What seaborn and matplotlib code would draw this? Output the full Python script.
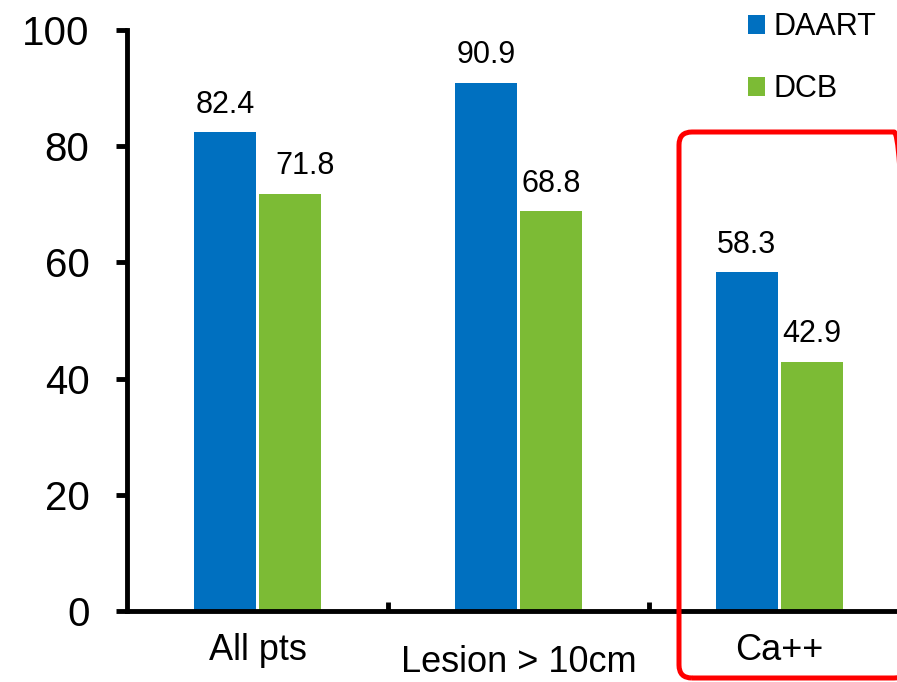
import matplotlib
matplotlib.use("Agg")
import matplotlib.pyplot as plt
import seaborn as sns
import pandas as pd
from matplotlib.patches import FancyBboxPatch, Patch
from matplotlib.transforms import IdentityTransform

# Response rates (%) by subgroup
categories = ["All pts", "Lesion > 10cm", "Ca++"]
groups = ["DAART", "DCB"]
daart = [82.4, 90.9, 58.3]
dcb = [71.8, 68.8, 42.9]
yticks = [0, 20, 40, 60, 80, 100]

colors = {"DAART": "#0070C0", "DCB": "#7CBB35"}

sns.set_style("white")
plt.rcParams["font.family"] = ["Liberation Sans", "DejaVu Sans"]
plt.rcParams["text.color"] = "black"
plt.rcParams["xtick.color"] = "black"
plt.rcParams["ytick.color"] = "black"

df = pd.DataFrame({
    "category": categories * 2,
    "group": [groups[0]] * len(categories) + [groups[1]] * len(categories),
    "value": daart + dcb,
})

W, H, DPI = 897, 682, 100
fig = plt.figure(figsize=(W / DPI, H / DPI), dpi=DPI)
ax = fig.add_axes([127 / W, 71 / H, 783 / W, 581 / H])

sns.barplot(data=df, x="category", y="value", hue="group", order=categories,
            hue_order=groups, palette=colors, width=0.5, gap=0.05,
            linewidth=0, saturation=1, ax=ax, errorbar=None)

ax.set_xlim(-0.5, len(categories) - 0.5)
ax.set_ylim(0, 100)
ax.set_yticks(yticks)
ax.set_xlabel("")
ax.set_ylabel("")

for side in ("top", "right"):
    ax.spines[side].set_visible(False)
for side in ("left", "bottom"):
    ax.spines[side].set_linewidth(3.5)
    ax.spines[side].set_color("black")

ax.tick_params(axis="y", left=True, direction="out", length=8, width=3.5,
               labelsize=29, pad=19, colors="black")
ax.tick_params(axis="x", which="major", bottom=True, length=0, labelsize=26,
               pad=16, colors="black")
ax.set_xticks([i + 0.5 for i in range(len(categories) - 1)], minor=True)
ax.tick_params(axis="x", which="minor", bottom=True, direction="in",
               length=6.5, width=3.5, color="black")
# the middle subgroup label sits a little lower
ax.xaxis.get_major_ticks()[1].set_pad(24.5)

# value labels above bars
for ci, cont in enumerate(ax.containers):
    texts = ax.bar_label(cont, fmt="%.1f", padding=9, fontsize=22,
                         color="black")
    if ci == 1:
        texts[0].xyann = (11, 9)

# legend with square markers
handles = [Patch(facecolor=colors[g], edgecolor="none", label=g) for g in groups]
leg = ax.legend(handles=handles, loc="upper left",
                bbox_to_anchor=(748 / W, 1 - 12 / H),
                bbox_transform=fig.transFigure, frameon=False,
                fontsize=22, handlelength=0.56, handleheight=0.56,
                handletextpad=0.27, labelspacing=1.05, borderpad=0,
                borderaxespad=0)
for t in leg.get_texts():
    t.set_color("black")

# highlight box around the calcified subgroup (runs off the right edge)
box = FancyBboxPatch((679, H - 678), 228, 546,
                     boxstyle="round,pad=0,rounding_size=13",
                     transform=IdentityTransform(), fill=False,
                     edgecolor="#FF0000", linewidth=3.6, clip_on=False)
fig.add_artist(box)

fig.savefig("out.png", dpi=DPI)
